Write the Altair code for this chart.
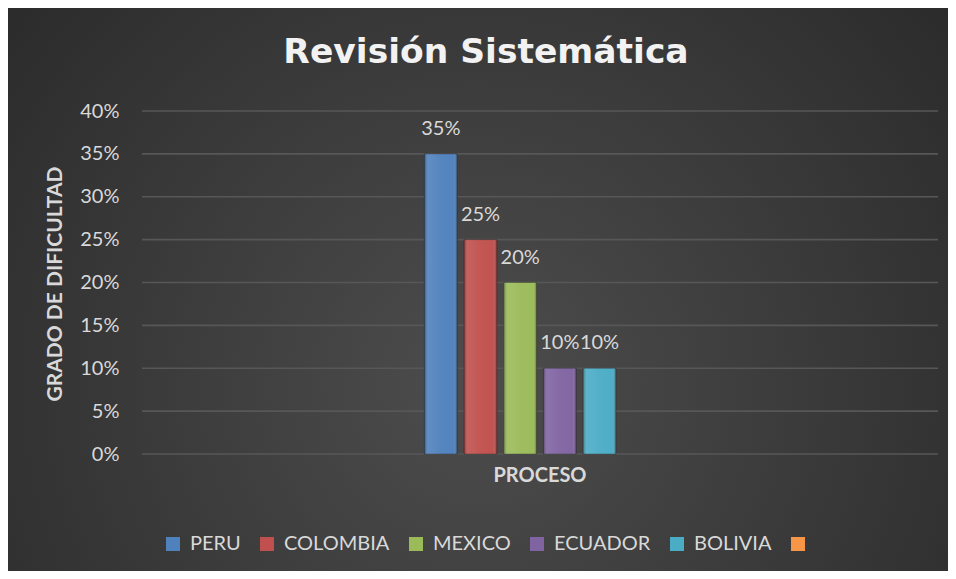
import altair as alt
import pandas as pd

# ---- data ----
category = "PROCESO"
countries = ["PERU", "COLOMBIA", "MEXICO", "ECUADOR", "BOLIVIA"]
values = [0.35, 0.25, 0.20, 0.10, 0.10]
legend_domain = countries + [""]
colors = ["#4f81bd", "#c0504d", "#9bbb59", "#8064a2", "#4bacc6", "#f79646"]
y_ticks = [0, 0.05, 0.10, 0.15, 0.20, 0.25, 0.30, 0.35, 0.40]
title_text = "Revisión Sistemática"
y_title = "GRADO DE DIFICULTAD"

df = pd.DataFrame({"proceso": [category] * len(countries), "pais": countries, "valor": values})
grid_df = pd.DataFrame({"valor": y_ticks})
bg_df = pd.DataFrame({"k": [0]})

W, H = 796, 343
PAD = {"left": 134, "top": 103, "right": 10, "bottom": 117}
TXT = "#d9d9d9"
FONT = "Lato"
GROUP_W = 238

x_enc = alt.X(
    "proceso:N",
    scale=alt.Scale(range=[W / 2 - GROUP_W / 2, W / 2 + GROUP_W / 2], paddingInner=0, paddingOuter=0),
    axis=alt.Axis(title=None, labelAngle=0, labelFont=FONT, labelFontWeight="bold",
                  labelFontSize=20, labelColor=TXT, labelPadding=11, ticks=False,
                  tickSize=0, domain=False, grid=False, zindex=1),
)
xoff_enc = alt.XOffset("pais:N", scale=alt.Scale(domain=legend_domain, paddingInner=0.17, paddingOuter=0.085))
y_axis = alt.Axis(values=y_ticks, format=".0%", title=y_title, grid=False, ticks=False, tickSize=0,
                  domain=False, labelFont=FONT, labelFontSize=20, labelColor=TXT, labelPadding=23,
                  titleFont=FONT, titleFontSize=21, titleFontWeight="bold", titleColor=TXT,
                  titleAngle=-90, titleX=-87, titleY=H / 2 + 1, titleAlign="center",
                  titleBaseline="middle", zindex=1)
y_enc = alt.Y("valor:Q", scale=alt.Scale(domain=[0, 0.4]), axis=y_axis)

bg_gradient = {
    "gradient": "radial", "x1": 0.5, "y1": 0.6, "r1": 0, "x2": 0.5, "y2": 0.6, "r2": 0.74,
    "stops": [{"offset": 0, "color": "#4d4d4d"}, {"offset": 1, "color": "#262626"}],
}
background = alt.Chart(bg_df).mark_rect(fill=bg_gradient, clip=False).encode(
    x=alt.value(-PAD["left"]), x2=alt.value(W + PAD["right"]),
    y=alt.value(-PAD["top"]), y2=alt.value(H + PAD["bottom"]),
)

gridlines = alt.Chart(grid_df).mark_rule(color="#575757", strokeWidth=1.6).encode(y=y_enc)

bars = alt.Chart(df).mark_bar(stroke="#1e1e1e", strokeWidth=0.6, strokeOpacity=0.6).encode(
    x=x_enc, xOffset=xoff_enc, y=y_enc,
    color=alt.Color(
        "pais:N",
        scale=alt.Scale(domain=legend_domain, range=colors),
        legend=alt.Legend(title=None, orient="none", legendX=21, legendY=423, direction="horizontal",
                          columns=6, symbolType="square", symbolSize=196, symbolStrokeWidth=0,
                          labelFont=FONT, labelFontSize=20, labelColor=TXT, labelOffset=7,
                          columnPadding=16, padding=0),
    ),
)

bevel = {
    "gradient": "linear", "x1": 0, "y1": 0, "x2": 1, "y2": 0,
    "stops": [
        {"offset": 0, "color": "rgba(0,0,0,0.35)"},
        {"offset": 0.12, "color": "rgba(255,255,255,0.10)"},
        {"offset": 0.5, "color": "rgba(255,255,255,0.04)"},
        {"offset": 0.88, "color": "rgba(255,255,255,0.02)"},
        {"offset": 1, "color": "rgba(0,0,0,0.40)"},
    ],
}
overlay = alt.Chart(df).mark_bar(fill=bevel).encode(x=x_enc, xOffset=xoff_enc, y=y_enc)

labels = alt.Chart(df).mark_text(dy=-19, baseline="alphabetic", font=FONT, fontSize=20, color=TXT).encode(
    x=x_enc, xOffset=xoff_enc, y=y_enc, text=alt.Text("valor:Q", format=".0%")
)

chart = alt.layer(background, gridlines, bars, overlay, labels).properties(
    width=W, height=H,
    padding=PAD,
    autosize=alt.AutoSizeParams(type="none"),
    background="#2a2a2a",
    title=alt.TitleParams(title_text, font="DejaVu Sans", fontSize=34.5, fontWeight="bold",
                          color="#f2f2f2", anchor="middle", frame="bounds", dx=8,
                          offset=-89, baseline="alphabetic"),
).configure_view(stroke=None)

chart.save("out.html", embed_options={"renderer": "svg", "actions": False})
